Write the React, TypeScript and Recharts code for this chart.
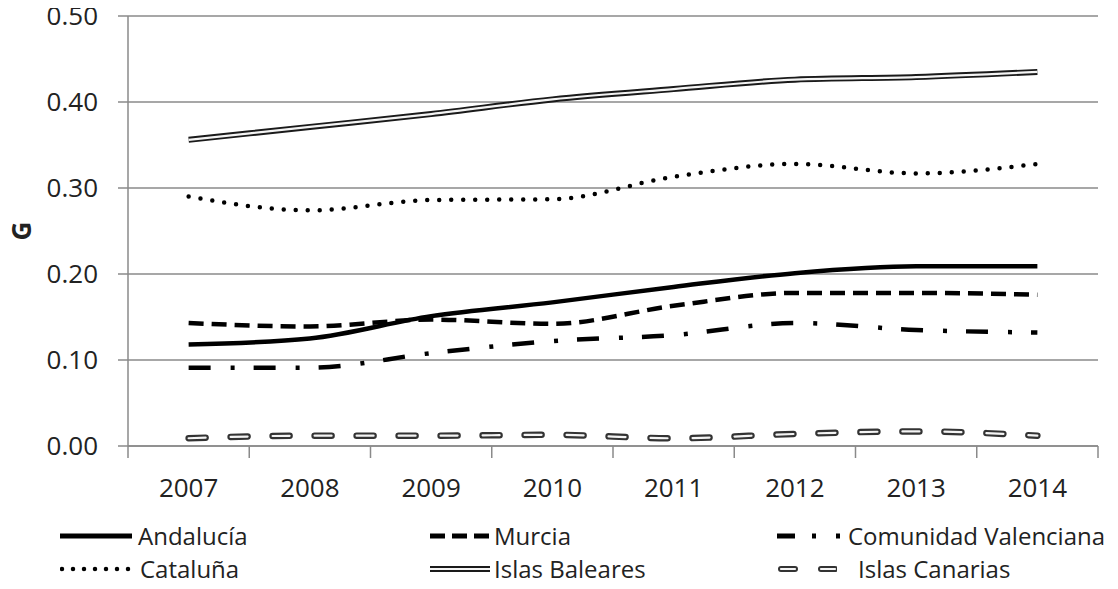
import { LineChart, Line, XAxis, YAxis, CartesianGrid, Legend } from "recharts";

// Years on the category axis
const years = ["2007", "2008", "2009", "2010", "2011", "2012", "2013", "2014"];

// Values of G per region
const andalucia = [0.118, 0.125, 0.151, 0.167, 0.185, 0.201, 0.209, 0.209];
const murcia = [0.143, 0.139, 0.147, 0.142, 0.163, 0.178, 0.178, 0.176];
const valenciana = [0.091, 0.091, 0.108, 0.122, 0.129, 0.143, 0.135, 0.132];
const cataluna = [0.29, 0.274, 0.286, 0.287, 0.313, 0.328, 0.317, 0.328];
const baleares = [0.356, 0.371, 0.386, 0.403, 0.415, 0.426, 0.429, 0.435];
const canarias = [0.009, 0.012, 0.012, 0.013, 0.009, 0.014, 0.017, 0.012];

const yTicks = [0, 0.1, 0.2, 0.3, 0.4, 0.5];

const seriesNames = [
  "Andalucía",
  "Murcia",
  "Comunidad Valenciana",
  "Cataluña",
  "Islas Baleares",
  "Islas Canarias",
];

const data = years.map((year, i) => ({
  year,
  andalucia: andalucia[i],
  murcia: murcia[i],
  valenciana: valenciana[i],
  cataluna: cataluna[i],
  baleares: baleares[i],
  canarias: canarias[i],
}));

const FONT = '"Open Sans", sans-serif';
const TEXT = "#222";
const GRID = "#8a8a8a";

// plot area layout (chart coords, chart starts at the page's top-left corner + 8px left)
const PLOT_LEFT = 120;
const PLOT_WIDTH = 970;
const AXIS_Y = 446;
const BAND = PLOT_WIDTH / years.length;

// x axis tick: label at the category, tick marks on the band edges
const YearTick = (props: any) => {
  const { x, payload, index } = props;
  const last = index === years.length - 1;
  return (
    <g>
      <line x1={x - BAND / 2} y1={AXIS_Y} x2={x - BAND / 2} y2={AXIS_Y + 12} stroke={GRID} strokeWidth={1.5} />
      {last && (
        <line x1={x + BAND / 2} y1={AXIS_Y} x2={x + BAND / 2} y2={AXIS_Y + 12} stroke={GRID} strokeWidth={1.5} />
      )}
      <text x={x} y={AXIS_Y + 51} textAnchor="middle" fill={TEXT} fontSize={26} fontFamily={FONT}>
        {payload.value}
      </text>
    </g>
  );
};

// legend sample strokes, drawn the same way as the series
const Sample = ({ kind, w }: { kind: number; w: number }) => {
  const y = 10;
  const line = (props: any) => <line x1={0} y1={y} x2={w} y2={y} {...props} />;
  return (
    <svg width={w} height={20} style={{ position: "absolute", left: 0, top: 0 }}>
      {kind === 0 && line({ stroke: "#000", strokeWidth: 5 })}
      {kind === 1 && line({ stroke: "#000", strokeWidth: 5, strokeDasharray: "15 7" })}
      {kind === 2 && line({ stroke: "#000", strokeWidth: 5, strokeDasharray: "18 17 4 20 4 100" })}
      {kind === 3 && (
        <line x1={2} y1={y} x2={w} y2={y} stroke="#000" strokeWidth={4.5} strokeDasharray="0 11" strokeLinecap="round" />
      )}
      {kind === 4 && (
        <>
          {line({ stroke: "#1a1a1a", strokeWidth: 6 })}
          {line({ stroke: "#f4f4f4", strokeWidth: 2.2 })}
        </>
      )}
      {kind === 5 && (
        <>
          <line x1={4} y1={y} x2={w} y2={y} stroke="#333" strokeWidth={6} strokeDasharray="14 26" strokeLinecap="round" />
          <line x1={4} y1={y} x2={w} y2={y} stroke="#f4f4f4" strokeWidth={2.2} strokeDasharray="14 26" strokeLinecap="round" />
        </>
      )}
    </svg>
  );
};

// legend item positions (legend-local coords)
const legendLayout = [
  { sx: 52, sw: 72, tx: 130, cy: 27 },
  { sx: 422, sw: 60, tx: 486, cy: 27 },
  { sx: 769, sw: 64, tx: 840, cy: 27 },
  { sx: 52, sw: 72, tx: 132, cy: 60 },
  { sx: 422, sw: 60, tx: 486, cy: 60 },
  { sx: 769, sw: 60, tx: 850, cy: 60 },
];

const LegendBox = () => (
  <div style={{ position: "relative", width: 1102, height: 80, fontFamily: FONT, fontSize: 24, color: TEXT }}>
    {seriesNames.map((name, i) => {
      const p = legendLayout[i];
      return (
        <div key={name}>
          <div style={{ position: "absolute", left: p.sx, top: p.cy - 10, width: p.sw, height: 20 }}>
            <Sample kind={i} w={p.sw} />
          </div>
          <div style={{ position: "absolute", left: p.tx, top: p.cy - 10, lineHeight: "20px", whiteSpace: "nowrap" }}>
            {name}
          </div>
        </div>
      );
    })}
  </div>
);

const App = () => {
  return (
    // negative margins cancel the body's top and bottom margins so the chart uses the full height
    <div style={{ marginTop: -8, marginBottom: -8 }}>
      <LineChart width={1102} height={589} data={data} margin={{ top: 16, right: 12, left: 0, bottom: 0 }}>
        <CartesianGrid vertical={false} stroke={GRID} strokeWidth={1.5} />
        <XAxis
          dataKey="year"
          height={63}
          padding={{ left: BAND / 2, right: BAND / 2 }}
          axisLine={{ stroke: GRID, strokeWidth: 1.5 }}
          tickLine={false}
          tick={<YearTick />}
          interval={0}
        />
        <YAxis
          width={PLOT_LEFT}
          domain={[0, 0.5]}
          ticks={yTicks}
          tickFormatter={(v: number) => v.toFixed(2)}
          tickSize={10}
          tickMargin={20}
          axisLine={{ stroke: GRID, strokeWidth: 1.5 }}
          tickLine={{ stroke: GRID, strokeWidth: 1.5 }}
          tick={{ fill: TEXT, fontSize: 26, fontFamily: FONT }}
          label={{
            value: "G",
            angle: -90,
            position: "insideLeft",
            offset: 14,
            style: { textAnchor: "middle", fontWeight: "bold", fontSize: 26, fontFamily: FONT, fill: TEXT },
          }}
        />
        <Legend
          verticalAlign="bottom"
          height={80}
          width={1102}
          wrapperStyle={{ left: 0 }}
          content={() => <LegendBox />}
        />

        {/* Islas Baleares: double line, dark outer and light inner stroke */}
        <Line type="monotone" dataKey="baleares" name="Islas Baleares" stroke="#1a1a1a" strokeWidth={6} dot={false} isAnimationActive={false} />
        <Line type="monotone" dataKey="baleares" name="Islas Baleares inner" stroke="#f4f4f4" strokeWidth={2.2} dot={false} isAnimationActive={false} />

        {/* Cataluña: dotted */}
        <Line type="monotone" dataKey="cataluna" name="Cataluña" stroke="#000" strokeWidth={4.5} strokeDasharray="0 12" strokeLinecap="round" dot={false} isAnimationActive={false} />

        {/* Andalucía: solid */}
        <Line type="monotone" dataKey="andalucia" name="Andalucía" stroke="#000" strokeWidth={4.5} dot={false} isAnimationActive={false} />

        {/* Murcia: dashed */}
        <Line type="monotone" dataKey="murcia" name="Murcia" stroke="#000" strokeWidth={4.5} strokeDasharray="15 8" dot={false} isAnimationActive={false} />

        {/* Comunidad Valenciana: long dash dot */}
        <Line type="monotone" dataKey="valenciana" name="Comunidad Valenciana" stroke="#000" strokeWidth={4.5} strokeDasharray="22 20 4 19" dot={false} isAnimationActive={false} />

        {/* Islas Canarias: dashed double line */}
        <Line type="monotone" dataKey="canarias" name="Islas Canarias" stroke="#333" strokeWidth={6.5} strokeDasharray="17 25" strokeLinecap="round" dot={false} isAnimationActive={false} />
        <Line type="monotone" dataKey="canarias" name="Islas Canarias inner" stroke="#f4f4f4" strokeWidth={2.2} strokeDasharray="17 25" strokeLinecap="round" dot={false} isAnimationActive={false} />
      </LineChart>
    </div>
  );
};

export default App;
